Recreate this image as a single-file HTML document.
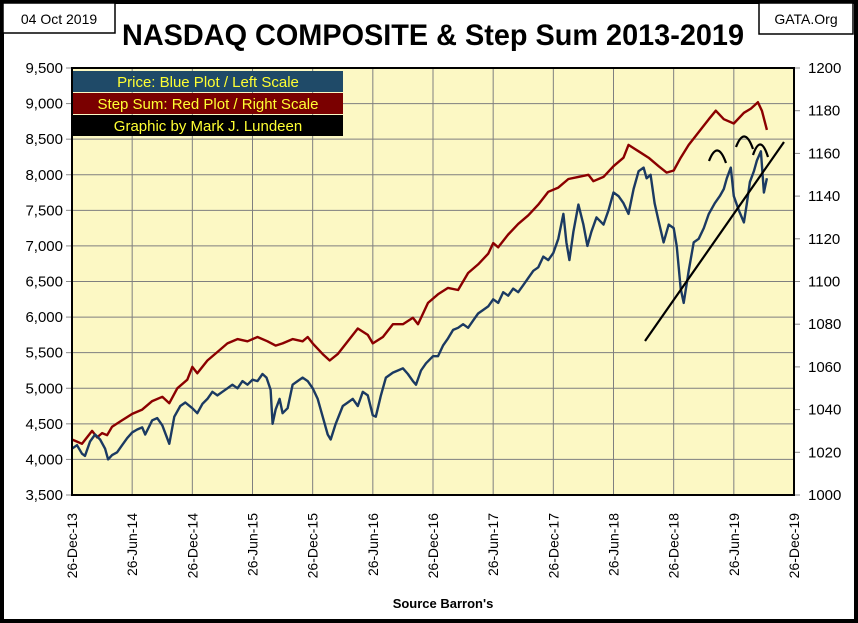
<!DOCTYPE html>
<html><head><meta charset="utf-8"><style>
html,body{margin:0;padding:0;background:#fff;}
svg{display:block;font-family:"Liberation Sans",sans-serif;}
</style></head><body>
<svg id="chart" width="858" height="623" viewBox="0 0 858 623">
<rect x="2" y="2" width="854" height="619" fill="#fff" stroke="#000" stroke-width="4"/>
<rect x="3" y="3" width="112" height="30" fill="#fff" stroke="#000" stroke-width="1.5"/>
<text x="59" y="24" font-size="14" text-anchor="middle">04 Oct 2019</text>
<rect x="759" y="3" width="94" height="31" fill="#fff" stroke="#000" stroke-width="1.5"/>
<text x="806" y="24" font-size="14" text-anchor="middle">GATA.Org</text>
<text x="433" y="45" font-size="30" font-weight="bold" text-anchor="middle" textLength="622" lengthAdjust="spacingAndGlyphs">NASDAQ COMPOSITE &amp; Step Sum 2013-2019</text>
<rect x="72" y="68" width="722" height="427" fill="#fcf8c4"/>
<g id="grid"></g>
<g id="axes"></g>
<g id="series"></g>
<rect x="72" y="68" width="722" height="427" fill="none" stroke="#000" stroke-width="2"/>
<g>
<rect x="73" y="71" width="270" height="21" fill="#1f4a68"/>
<text x="208" y="87" font-size="15" fill="#ffff33" text-anchor="middle">Price:  Blue Plot / Left Scale</text>
<rect x="73" y="93" width="270" height="21" fill="#7a0000"/>
<text x="208" y="109" font-size="15" fill="#ffff33" text-anchor="middle">Step Sum: Red Plot / Right Scale</text>
<rect x="73" y="115" width="270" height="21" fill="#000"/>
<text x="208" y="131" font-size="15" fill="#ffff33" text-anchor="middle">Graphic by Mark J. Lundeen</text>
</g>
<text x="443" y="608" font-size="13" font-weight="bold" text-anchor="middle">Source Barron's</text>
</svg>
<script>
const xTickLabels=["26-Dec-13","26-Jun-14","26-Dec-14","26-Jun-15","26-Dec-15","26-Jun-16","26-Dec-16","26-Jun-17","26-Dec-17","26-Jun-18","26-Dec-18","26-Jun-19","26-Dec-19"];
const leftTicks=[3500,4000,4500,5000,5500,6000,6500,7000,7500,8000,8500,9000,9500];
const rightTicks=[1000,1020,1040,1060,1080,1100,1120,1140,1160,1180,1200];
const priceMonths=[0,0.5,1,1.3,1.8,2.3,2.8,3.3,3.6,4,4.5,5,5.5,6,6.5,7,7.3,8,8.5,9,9.7,10.2,10.8,11.3,12,12.5,13,13.5,14,14.5,15,15.5,16,16.5,17,17.5,18,18.5,19,19.4,19.8,20,20.3,20.7,21,21.5,22,22.5,23,23.5,24,24.5,25,25.5,25.8,26.3,27,27.5,28,28.5,29,29.5,30,30.3,30.8,31.3,32,32.5,33,33.5,34,34.3,34.8,35.3,36,36.5,37,37.5,38,38.5,39,39.5,40,40.5,41,41.5,42,42.5,43,43.5,44,44.5,45,45.5,46,46.5,47,47.5,48,48.5,49,49.3,49.6,50,50.5,51,51.4,51.8,52.3,53,53.5,54,54.5,55,55.5,56,56.5,57,57.3,57.7,58.1,58.5,59,59.5,60,60.3,60.7,61,61.5,62,62.5,63,63.5,64.1,64.6,65,65.3,65.7,66,66.5,67,67.3,67.6,68,68.3,68.7,69,69.3];
const priceValues=[4150,4200,4080,4050,4250,4350,4280,4150,4000,4060,4100,4200,4300,4380,4420,4450,4350,4550,4580,4480,4220,4600,4750,4800,4720,4650,4780,4850,4950,4900,4950,5000,5050,5000,5100,5050,5120,5100,5200,5150,4980,4500,4700,4850,4650,4720,5050,5100,5150,5100,5000,4850,4600,4350,4280,4500,4750,4800,4850,4750,4950,4900,4620,4600,4900,5150,5220,5250,5280,5200,5100,5050,5250,5350,5450,5450,5600,5700,5820,5850,5900,5850,5950,6050,6100,6150,6250,6200,6350,6300,6400,6350,6450,6550,6650,6700,6850,6800,6900,7100,7450,7050,6800,7200,7580,7300,7000,7200,7400,7300,7500,7750,7700,7600,7450,7800,8050,8100,7950,8000,7600,7350,7050,7300,7250,7000,6400,6200,6650,7050,7100,7250,7450,7600,7700,7800,7950,8100,7700,7500,7330,7600,7900,8050,8200,8330,7750,7950,7850,8150,7900,8100,7800];
const stepMonths=[0,0.5,1,1.5,2,2.5,3,3.5,4,5,6,7,8,9,9.7,10.5,11.5,12,12.5,13.5,14.5,15.5,16.5,17.5,18.5,19.5,20.3,21,22,23,23.5,24,25,25.7,26.5,27.5,28.5,29.5,30,31,32,33,34,34.5,35.5,36.5,37.5,38.5,39.5,40.5,41.5,42,42.5,43.5,44.5,45.5,46.5,47.5,48.5,49.5,50.5,51.5,52,53,54,55,55.5,56.5,57.5,58.5,59.3,60,60.7,61.5,62.5,63.5,64.2,65,66,67,67.7,68.4,68.8,69.3];
const stepValues=[1026,1025,1024,1027,1030,1027,1029,1028,1032,1035,1038,1040,1044,1046,1043,1050,1054,1060,1057,1063,1067,1071,1073,1072,1074,1072,1070,1071,1073,1072,1074,1071,1066,1063,1066,1072,1078,1075,1071,1074,1080,1080,1083,1080,1090,1094,1097,1096,1104,1108,1113,1118,1116,1122,1127,1131,1136,1142,1144,1148,1149,1150,1147,1149,1154,1158,1164,1161,1158,1154,1151,1152,1158,1164,1170,1176,1180,1176,1174,1179,1181,1184,1180,1171];

const NS="http://www.w3.org/2000/svg";
const L=72,R=794,T=68,B=495;
function xs(m){return L+(R-L)*m/72;}
function yl(v){return B-(B-T)*(v-3500)/6000;}
function yr(v){return B-(B-T)*(v-1000)/200;}
function mk(tag,attrs,parent){const e=document.createElementNS(NS,tag);for(const k in attrs)e.setAttribute(k,attrs[k]);parent.appendChild(e);return e;}
const grid=document.getElementById('grid'),axes=document.getElementById('axes'),ser=document.getElementById('series');
xTickLabels.forEach((lab,i)=>{
  const x=xs(i*6);
  const g=mk('line',{x1:x,x2:x,y1:T,y2:B,stroke:'#7f7f7f','stroke-width':1},grid);
  
  
  const t=mk('text',{x:0,y:0,'font-size':14,'text-anchor':'end',transform:`translate(${x+5},513) rotate(-90)`},axes);
  t.textContent=lab;
  
  
});
leftTicks.forEach(v=>{
  const y=yl(v);
  const g=mk('line',{x1:L,x2:R,y1:y,y2:y,stroke:'#7f7f7f','stroke-width':1},grid);
  
  
  mk('line',{x1:L-6,x2:L,y1:y,y2:y,stroke:'#888'},axes);
  const t=mk('text',{x:63,y:y+5,'font-size':15,'text-anchor':'end'},axes);
  t.textContent=v.toLocaleString('en-US');
  
  
});
rightTicks.forEach(v=>{
  const y=yr(v);
  mk('line',{x1:R,x2:R+6,y1:y,y2:y,stroke:'#888'},axes);
  const t=mk('text',{x:808,y:y+5,'font-size':15,'text-anchor':'start'},axes);
  t.textContent=v;
  
  
});
const sp=mk('polyline',{points:stepMonths.map((m,i)=>xs(m).toFixed(1)+','+yr(stepValues[i]).toFixed(1)).join(' '),fill:'none',stroke:'#8b0000','stroke-width':2.4,'stroke-linejoin':'round'},ser);


const pp=mk('polyline',{points:priceMonths.map((m,i)=>xs(m).toFixed(1)+','+yl(priceValues[i]).toFixed(1)).join(' '),fill:'none',stroke:'#1b3a62','stroke-width':2.4,'stroke-linejoin':'round'},ser);


const tl=mk('line',{x1:645,y1:341,x2:784,y2:142,stroke:'#000','stroke-width':2.2},ser);


[[709,161,726],[736,147,753],[753,155,768]].forEach(a=>{
  const p=mk('path',{d:`M${a[0]},${a[1]} Q${(a[0]+a[2])/2},${a[1]-22} ${a[2]},${a[1]+2}`,fill:'none',stroke:'#000','stroke-width':2.2},ser);
  
  
});
</script>
</body></html>
